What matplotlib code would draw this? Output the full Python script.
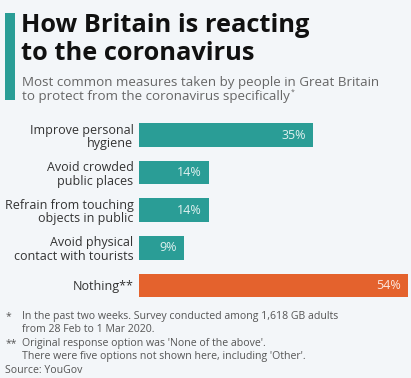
import matplotlib
matplotlib.use("Agg")
import matplotlib.pyplot as plt
from matplotlib.patches import Rectangle

categories = ["Improve personal\nhygiene", "Avoid crowded\npublic places",
              "Refrain from touching\nobjects in public", "Avoid physical\ncontact with tourists",
              "Nothing**"]
values = [35, 14, 14, 9, 54]
value_labels = ["35%", "14%", "14%", "9%", "54%"]
colors = ["#2a9d96", "#2a9d96", "#2a9d96", "#2a9d96", "#e4622d"]

title_lines = ["How Britain is reacting", "to the coronavirus"]
subtitle_lines = ["Most common measures taken by people in Great Britain",
                  "to protect from the coronavirus specifically"]
footnote_marks = ["*", "", "**", ""]
footnote_lines = ["In the past two weeks. Survey conducted among 1,618 GB adults",
                  "from 28 Feb to 1 Mar 2020.",
                  "Original response option was 'None of the above'.",
                  "There were five options not shown here, including 'Other'."]
source = "Source: YouGov"

W, H = 411, 378
BG = "#f3f6f9"
plt.rcParams['font.family'] = ['Open Sans', 'DejaVu Sans']

fig = plt.figure(figsize=(W / 100, H / 100), dpi=100)
fig.patch.set_facecolor(BG)

def fx(px):
    return px / W

def fy(py):
    return 1 - py / H

# accent bar
fig.patches.append(Rectangle((fx(5), fy(100)), fx(10), (100 - 13) / H,
                             transform=fig.transFigure, facecolor="#2a9d96",
                             edgecolor="none"))
for line, base in zip(title_lines, [32, 60]):
    fig.text(fx(21), fy(base), line, fontsize=18.3, fontweight="bold",
             color="#111111", va="baseline", ha="left")
sub_texts = []
for line, base in zip(subtitle_lines, [86, 100]):
    sub_texts.append(fig.text(fx(22), fy(base), line, fontsize=9.6, color="#666666",
                              va="baseline", ha="left"))
renderer = fig.canvas.get_renderer()
end_px = sub_texts[1].get_window_extent(renderer).x1
fig.text(end_px / W + fx(1), fy(94), "*", fontsize=5, color="#666666",
         va="baseline", ha="left")

# axes
left_px, right_px = 139, 408
top_px, bot_px = 116.2, 304.3
ax = fig.add_axes([fx(left_px), fy(bot_px), (right_px - left_px) / W, (bot_px - top_px) / H])
ax.set_facecolor("none")
ypos = list(range(len(values)))
ax.barh(ypos, values, height=0.63, color=colors, edgecolor="none")
ax.set_xlim(0, max(values))
ax.set_ylim(len(values) - 0.5, -0.5)
for s in ax.spines.values():
    s.set_visible(False)
ax.set_xticks([])
ax.set_yticks(ypos)
ax.set_yticklabels(categories, fontsize=9, color="#333333", linespacing=1.05)
ax.tick_params(axis="y", length=0, pad=4)
for y, v, lab in zip(ypos, values, value_labels):
    ax.annotate(lab, (v, y), xytext=(-5, 0), textcoords="offset points",
                ha="right", va="center", fontsize=9, color="white", alpha=0.85)

# footnotes
bases = [319, 332.5, 346, 359.5]
for mark, line, base in zip(footnote_marks, footnote_lines, bases):
    if mark:
        fig.text(fx(6), fy(base), mark, fontsize=7.5, color="#555555", va="baseline")
    fig.text(fx(22), fy(base), line, fontsize=7.55, color="#555555", va="baseline")
fig.text(fx(5), fy(373), source, fontsize=7.55, color="#555555", va="baseline")

fig.savefig("out.png", dpi=100, facecolor=BG)
